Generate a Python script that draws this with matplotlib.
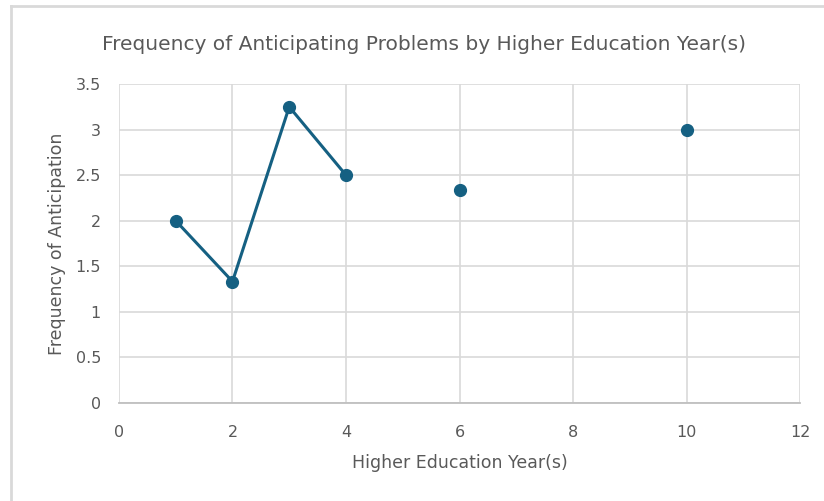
import numpy as np
import matplotlib
matplotlib.use("Agg")
import matplotlib.pyplot as plt
from matplotlib.lines import Line2D

# mean frequency of anticipating problems per year of higher education
# (years with no respondents left as NaN so the line breaks there)
years = [1, 2, 3, 4, 5, 6, 7, 8, 9, 10]
frequency = [2.0, 1.333, 3.25, 2.5, np.nan, 2.333, np.nan, np.nan, np.nan, 3.0]

x_ticks = [0, 2, 4, 6, 8, 10, 12]
y_ticks = [0, 0.5, 1, 1.5, 2, 2.5, 3, 3.5]

TEXT = "#595959"
GRID = "#d9d9d9"
SERIES = "#156082"

plt.rcParams["font.family"] = ["DejaVu Sans"]

fig = plt.figure(figsize=(8.24, 5.01), dpi=100)
ax = fig.add_axes([0.1444, 0.1956, 0.8265, 0.6367])

ax.plot(years, frequency, color=SERIES, lw=2.2, marker="o", ms=8.5,
        markeredgecolor=SERIES, markerfacecolor=SERIES, zorder=3)

ax.set_xlim(0, 12)
ax.set_ylim(0, 3.5)
ax.set_xticks(x_ticks)
ax.set_yticks(y_ticks)
ax.set_yticklabels([f"{v:g}" for v in y_ticks])
ax.grid(True, color=GRID, lw=1.2)
ax.set_axisbelow(True)
for side in ("top", "right", "left"):
    ax.spines[side].set_visible(False)
ax.spines["bottom"].set_color("#bfbfbf")
ax.spines["bottom"].set_linewidth(1.3)
ax.tick_params(length=0, labelsize=11.5, colors=TEXT)
ax.tick_params(axis="x", pad=16)
ax.tick_params(axis="y", pad=13)

ax.set_xlabel("Higher Education Year(s)", fontsize=12.5, color=TEXT, labelpad=10)
ax.set_ylabel("Frequency of Anticipation", fontsize=12.5, color=TEXT, labelpad=7)
fig.text(0.515, 0.912, "Frequency of Anticipating Problems by Higher Education Year(s)",
         ha="center", va="center", fontsize=14.5, color=TEXT)

# chart frame, only the top and left edges fall inside the canvas
fig.add_artist(Line2D([11 / 824, 1.0], [1 - 6 / 501] * 2, transform=fig.transFigure,
                      color="#d9d9d9", lw=2))
fig.add_artist(Line2D([11 / 824] * 2, [0.0, 1 - 6 / 501], transform=fig.transFigure,
                      color="#d9d9d9", lw=2))

fig.savefig("out.png", dpi=100)
